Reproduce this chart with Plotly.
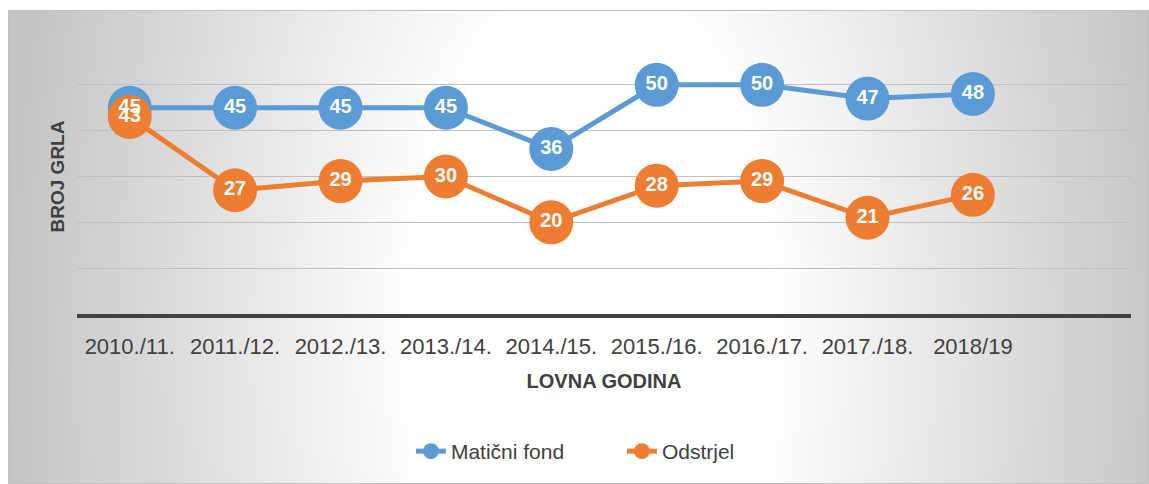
import base64
import plotly.graph_objects as go

categories = ["2010./11.", "2011./12.", "2012./13.", "2013./14.", "2014./15.",
              "2015./16.", "2016./17.", "2017./18.", "2018/19"]
maticni_fond = [45, 45, 45, 45, 36, 50, 50, 47, 48]
odstrjel = [43, 27, 29, 30, 20, 28, 29, 21, 26]

W, H = 1149, 484
ML, MR, MT, MB = 77, 18, 39, 170
plot_w = W - ML - MR
plot_h = H - MT - MB

# radial gradient background frame (chart area), starts at (8,10)
fx, fy = 8, 10
fw, fh = W - fx, H - fy
svg = (
    f"<svg xmlns='http://www.w3.org/2000/svg' width='{fw}' height='{fh}' viewBox='0 0 {fw} {fh}' preserveAspectRatio='none'>"
    "<defs><radialGradient id='g' gradientUnits='userSpaceOnUse' cx='0' cy='0' r='1' "
    "gradientTransform='translate(585,330) scale(585,1150)'>"
    "<stop offset='0.3' stop-color='#ffffff'/><stop offset='1' stop-color='#c4c4c4'/>"
    "</radialGradient></defs>"
    f"<rect x='0.5' y='0.5' width='{fw-1}' height='{fh-1}' fill='url(#g)' stroke='#c0c0c0' stroke-width='1'/></svg>"
)
src = "data:image/svg+xml;base64," + base64.b64encode(svg.encode()).decode()

blue = "#5b9bd5"
orange = "#ed7d31"

fig = go.Figure()
fig.add_trace(go.Scatter(x=categories, y=maticni_fond, name="Matični fond",
                         mode="lines+markers",
                         line=dict(color=blue, width=5),
                         marker=dict(color=blue, size=44)))
fig.add_trace(go.Scatter(x=categories, y=odstrjel, name="Odstrjel",
                         mode="lines+markers",
                         line=dict(color=orange, width=5),
                         marker=dict(color=orange, size=44)))
lab_font = dict(family="Liberation Sans, Arial, sans-serif", size=20, color="white")
fig.add_trace(go.Scatter(x=categories, y=maticni_fond, mode="text",
                         text=[f"<b>{v}</b>" for v in maticni_fond],
                         textposition="middle center", textfont=lab_font,
                         showlegend=False, hoverinfo="skip"))
fig.add_trace(go.Scatter(x=categories, y=odstrjel, mode="text",
                         text=[f"<b>{v}</b>" for v in odstrjel],
                         textposition="middle center", textfont=lab_font,
                         showlegend=False, hoverinfo="skip"))

fig.update_layout(
    width=W, height=H,
    margin=dict(l=ML, r=MR, t=MT, b=MB, pad=0),
    paper_bgcolor="white",
    plot_bgcolor="rgba(0,0,0,0)",
    font=dict(family="Liberation Sans, Arial, sans-serif", color="#404040"),
    images=[dict(source=src, xref="paper", yref="paper",
                 x=(fx - ML) / plot_w, y=(H - MB - fy) / plot_h,
                 sizex=fw / plot_w, sizey=fh / plot_h,
                 xanchor="left", yanchor="top", sizing="stretch", layer="below")],
    xaxis=dict(type="category", range=[-0.5, 9.5],
               showline=True, linecolor="#404040", linewidth=4,
               showgrid=False, zeroline=False, ticks="",
               ticklabelstandoff=10,
               tickfont=dict(size=22, color="#404040"),
               title=dict(text="<b>LOVNA GODINA</b>", standoff=17,
                          font=dict(size=20, color="#404040"))),
    yaxis=dict(range=[0, 60], dtick=10, showticklabels=False,
               showgrid=True, gridcolor="#bfbfbf", gridwidth=1,
               zeroline=False, showline=False,
               title=dict(text="<b>BROJ GRLA</b>", standoff=6,
                          font=dict(size=19, color="#404040"))),
    legend=dict(orientation="h", x=0.517, xanchor="center", y=-0.5, yanchor="middle",
                entrywidth=166, entrywidthmode="pixels",
                bgcolor="rgba(0,0,0,0)", font=dict(size=21, color="#404040")),
    showlegend=True,
)

fig.write_html("out.html", config={"displayModeBar": False},
               post_script="document.body.style.margin='0px';")
